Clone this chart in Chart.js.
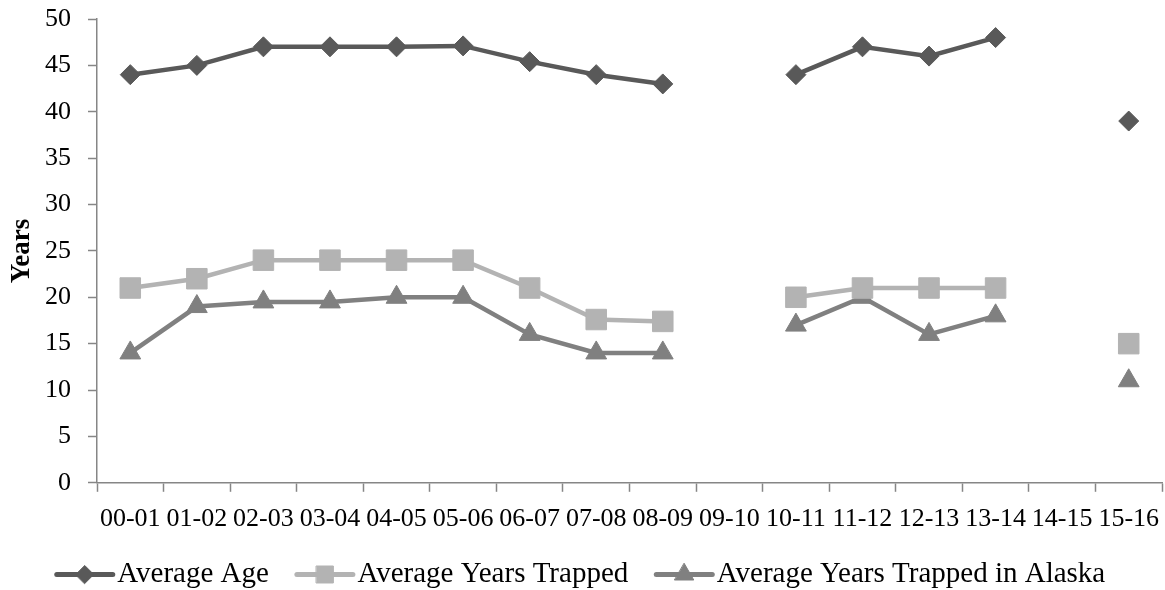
<!DOCTYPE html>
<html>
<head>
<meta charset="utf-8">
<script src="https://cdn.jsdelivr.net/npm/chart.js@4/dist/chart.umd.min.js"></script>
<style>
  html, body { margin: 0; padding: 0; background: #fff; }
  #wrap { width: 1165px; height: 590px; position: relative; }
</style>
</head>
<body>
<div id="wrap"><canvas id="c" width="1165" height="590"></canvas></div>
<script>
// Trapper survey seasons
const seasons = ['00-01','01-02','02-03','03-04','04-05','05-06','06-07','07-08',
                 '08-09','09-10','10-11','11-12','12-13','13-14','14-15','15-16'];

// Averages per season (null = no survey that season)
const averageAge = [44, 45, 47, 47, 47, 47.1, 45.4, 44, 43, null, 44, 47, 46, 48, null, 39];
const averageYearsTrapped = [21, 22, 24, 24, 24, 24, 21, 17.6, 17.4, null, 20, 21, 21, 21, null, 15];
const averageYearsTrappedAlaska = [14, 19, 19.5, 19.5, 20, 20, 16, 14, 14, null, 17, 20, 16, 18, null, 11];

const yTicks = [0, 5, 10, 15, 20, 25, 30, 35, 40, 45, 50];

const SERIF = '"Liberation Serif", "Times New Roman", serif';
const AXIS_GREY = '#868686';

const series = [
  { label: 'Average Age', data: averageAge, color: '#595959', style: 'rectRot', radius: 10, legendRadius: 9 },
  { label: 'Average Years Trapped', data: averageYearsTrapped, color: '#b3b3b3', style: 'rect', radius: 14.5, legendRadius: 12 },
  { label: 'Average Years Trapped in Alaska', data: averageYearsTrappedAlaska, color: '#808080', style: 'triangle', radius: 12, legendRadius: 11 }
];

// Legend entries drawn as a short line with the series marker on it;
// the legend box is also made a little shorter so it sits lower.
const legendLines = {
  id: 'legendLines',
  afterInit(chart) {
    const lg = chart.legend;
    if (!lg) return;
    const baseFit = lg.fit;
    lg.fit = function () {
      baseFit.call(this);
      this.height -= 9;
    };
  },
  afterDraw(chart) {
    const legend = chart.legend;
    if (!legend || !legend.legendHitBoxes) return;
    const ctx = chart.ctx;
    legend.legendHitBoxes.forEach((box, i) => {
      const s = series[i];
      const y = box.top + box.height / 2;
      const x0 = box.left;
      const x1 = box.left + 56;
      ctx.save();
      ctx.strokeStyle = s.color;
      ctx.lineWidth = 5;
      ctx.lineCap = 'round';
      ctx.beginPath();
      ctx.moveTo(x0, y);
      ctx.lineTo(x1, y);
      ctx.stroke();
      ctx.fillStyle = s.color;
      ctx.lineWidth = 1;
      Chart.helpers.drawPoint(ctx, { pointStyle: s.style, radius: s.legendRadius, rotation: 0, borderWidth: 1 },
        (x0 + x1) / 2, y);
      ctx.restore();
    });
  }
};

new Chart(document.getElementById('c'), {
  type: 'line',
  data: {
    labels: seasons,
    datasets: series.map(s => ({
      label: s.label,
      data: s.data,
      borderColor: s.color,
      backgroundColor: s.color,
      borderWidth: 4.5,
      pointStyle: s.style,
      pointRadius: s.radius,
      pointHoverRadius: s.radius,
      pointBackgroundColor: s.color,
      pointBorderColor: s.color,
      pointBorderWidth: 1,
      spanGaps: false,
      tension: 0,
      fill: false,
      clip: false
    }))
  },
  options: {
    responsive: false,
    animation: false,
    devicePixelRatio: 1,
    layout: { autoPadding: false, padding: { top: 0, right: 3, bottom: 0, left: 0 } },
    plugins: {
      tooltip: { enabled: false },
      legend: {
        display: true,
        position: 'bottom',
        align: 'center',
        labels: {
          color: '#000',
          font: { family: SERIF, size: 29 },
          boxWidth: 46,
          boxHeight: 6,
          padding: 28,
          generateLabels(chart) {
            return series.map((s, i) => ({
              text: s.label,
              fillStyle: 'rgba(0,0,0,0)',
              strokeStyle: 'rgba(0,0,0,0)',
              lineWidth: 0,
              hidden: false,
              datasetIndex: i,
              fontColor: '#000'
            }));
          }
        }
      }
    },
    scales: {
      x: {
        type: 'category',
        offset: true,
        afterFit(scale) {
          scale.height -= 15;
          scale.paddingLeft = 0;
          scale.paddingRight = 0;
        },
        grid: {
          display: true,
          offset: true,
          drawOnChartArea: false,
          drawTicks: true,
          tickLength: 9,
          tickWidth: 1.5,
          color: AXIS_GREY
        },
        border: { display: true, color: AXIS_GREY, width: 1.5 },
        ticks: {
          color: '#000',
          font: { family: SERIF, size: 26 },
          maxRotation: 0,
          minRotation: 0,
          autoSkip: false,
          padding: 12
        }
      },
      y: {
        min: 0,
        max: 50,
        afterBuildTicks(scale) { scale.ticks = yTicks.map(v => ({ value: v })); },
        afterFit(scale) {
          scale.width = 97;
          scale.paddingTop = 19;
          scale.paddingBottom = 0;
        },
        grid: {
          display: true,
          drawOnChartArea: false,
          drawTicks: true,
          tickLength: 9,
          tickWidth: 1.5,
          color: AXIS_GREY
        },
        border: { display: true, color: AXIS_GREY, width: 1.5 },
        ticks: {
          color: '#000',
          font: { family: SERIF, size: 26 },
          padding: 17
        },
        title: {
          display: true,
          text: 'Years',
          color: '#000',
          font: { family: SERIF, size: 27, weight: 'bold' },
          padding: { top: 6, bottom: 0 }
        }
      }
    }
  },
  plugins: [legendLines]
});
</script>
</body>
</html>
